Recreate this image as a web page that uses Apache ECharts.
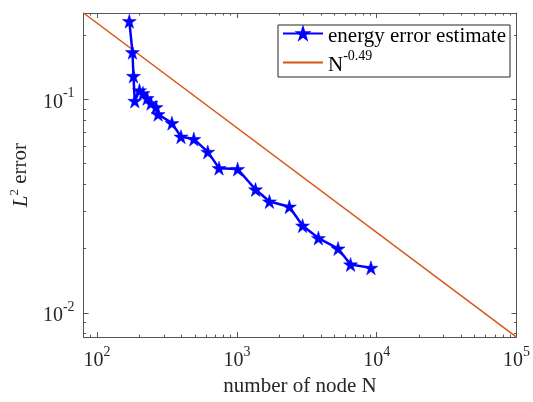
<!DOCTYPE html>
<html>
<head>
<meta charset="utf-8">
<script src="https://cdn.jsdelivr.net/npm/echarts@6/dist/echarts.min.js"></script>
<style>html,body{margin:0;padding:0;background:#fff;}#c{width:533px;height:402px;}</style>
</head>
<body>
<div id="c"></div>
<script>
// ---- data ----
const nodeCount = [170, 179, 182, 186, 201, 213, 228, 243, 264, 273, 343, 398, 492, 619, 745, 1012, 1359, 1709, 2372, 2950, 3827, 5293, 6500, 9093];
const energyError = [0.232, 0.166, 0.1285, 0.0982, 0.110, 0.1066, 0.1011, 0.0958, 0.0918, 0.0851, 0.0773, 0.0668, 0.0651, 0.0567, 0.0476, 0.0471, 0.0378, 0.0332, 0.0314, 0.0256, 0.0224, 0.0200, 0.01684, 0.01624];
const refRate = -0.49;
const refCoef = 2.17;
const refX = [80, 100000];
const xMajorTicks = [100, 1000, 10000, 100000];
const yMajorTicks = [0.01, 0.1];
const seriesNames = ['energy error estimate', 'ref'];

// ---- build ----
const FONT = 'Liberation Serif';
const xMin = refX[0], xMax = refX[1];
const yMax = refCoef * Math.pow(xMin, refRate);
const yMin = refCoef * Math.pow(xMax, refRate);
const refData = refX.map(x => [x, refCoef * Math.pow(x, refRate)]);
const mainData = nodeCount.map((n, i) => [n, energyError[i]]);

function minorVals(lo, hi) {
  const out = [];
  for (let d = Math.floor(Math.log10(lo)); d <= Math.ceil(Math.log10(hi)); d++) {
    for (let k = 2; k <= 9; k++) {
      const v = k * Math.pow(10, d);
      if (v > lo * 1.0001 && v < hi * 0.9999) out.push(v);
    }
  }
  return out;
}
const xMinor = minorVals(xMin, xMax);
const yMinor = minorVals(yMin, yMax);

const rich = {
  b: { fontFamily: FONT, fontSize: 20, color: '#262626', lineHeight: 26, verticalAlign: 'bottom' },
  sup: { fontFamily: FONT, fontSize: 14, color: '#262626', lineHeight: 26, verticalAlign: 'top' }
};
function powLabel(v) {
  const e = Math.round(Math.log10(v));
  return '{b|10}{sup|' + e + '}';
}
const axisColor = '#555';
const starPath = 'path://M50,0 L61.2,34.5 L97.6,34.5 L68.2,55.9 L79.4,90.5 L50,69.1 L20.6,90.5 L31.8,55.9 L2.4,34.5 L38.8,34.5 Z';

function baseX(extra) {
  return Object.assign({
    type: 'log', logBase: 10, min: xMin, max: xMax, gridIndex: 0,
    splitLine: { show: false }, minorTick: { show: false }, minorSplitLine: { show: false }
  }, extra);
}
function baseY(extra) {
  return Object.assign({
    type: 'log', logBase: 10, min: yMin, max: yMax, gridIndex: 0,
    splitLine: { show: false }, minorTick: { show: false }, minorSplitLine: { show: false }
  }, extra);
}

const chart = echarts.init(document.getElementById('c'), null, { renderer: 'canvas' });
chart.setOption({
  animation: false,
  backgroundColor: '#fff',
  grid: { left: 83, right: 15, top: 13, bottom: 61, containLabel: false },
  xAxis: [
    baseX({
      position: 'bottom',
      axisLine: { show: true, lineStyle: { color: axisColor, width: 1 } },
      axisTick: { show: true, inside: true, length: 5, lineStyle: { color: axisColor }, customValues: xMajorTicks },
      axisLabel: { show: true, margin: 8, formatter: powLabel, rich: rich, customValues: xMajorTicks },
      name: 'number of node N', nameLocation: 'middle', nameGap: 32,
      nameTextStyle: { fontFamily: FONT, fontSize: 21, color: '#262626' }
    }),
    baseX({
      position: 'bottom',
      axisLine: { show: false },
      axisTick: { show: true, inside: true, length: 2.5, lineStyle: { color: axisColor }, customValues: xMinor },
      axisLabel: { show: false }
    }),
    baseX({
      position: 'top',
      axisLine: { show: true, lineStyle: { color: axisColor, width: 1 } },
      axisTick: { show: true, inside: true, length: 5, lineStyle: { color: axisColor }, customValues: xMajorTicks },
      axisLabel: { show: false }
    }),
    baseX({
      position: 'top',
      axisLine: { show: false },
      axisTick: { show: true, inside: true, length: 2.5, lineStyle: { color: axisColor }, customValues: xMinor },
      axisLabel: { show: false }
    })
  ],
  yAxis: [
    baseY({
      position: 'left',
      axisLine: { show: true, lineStyle: { color: axisColor, width: 1 } },
      axisTick: { show: true, inside: true, length: 5, lineStyle: { color: axisColor }, customValues: yMajorTicks },
      axisLabel: { show: true, margin: 9, formatter: powLabel, rich: rich, customValues: yMajorTicks },
      name: '{it|L}{s2|2} error', nameLocation: 'middle', nameGap: 50,
      nameTextStyle: {
        fontFamily: FONT, fontSize: 21, color: '#262626',
        rich: {
          it: { fontFamily: FONT, fontSize: 21, fontStyle: 'italic', color: '#262626', lineHeight: 24, verticalAlign: 'bottom' },
          s2: { fontFamily: FONT, fontSize: 13, color: '#262626', lineHeight: 24, verticalAlign: 'top' }
        }
      }
    }),
    baseY({
      position: 'left',
      axisLine: { show: false },
      axisTick: { show: true, inside: true, length: 2.5, lineStyle: { color: axisColor }, customValues: yMinor },
      axisLabel: { show: false }
    }),
    baseY({
      position: 'right',
      axisLine: { show: true, lineStyle: { color: axisColor, width: 1 } },
      axisTick: { show: true, inside: true, length: 5, lineStyle: { color: axisColor }, customValues: yMajorTicks },
      axisLabel: { show: false }
    }),
    baseY({
      position: 'right',
      axisLine: { show: false },
      axisTick: { show: true, inside: true, length: 2.5, lineStyle: { color: axisColor }, customValues: yMinor },
      axisLabel: { show: false }
    })
  ],
  legend: {
    orient: 'vertical', left: 278, top: 25,
    padding: [1, 4, 1, 4], itemGap: 2, itemWidth: 40, itemHeight: 14,
    backgroundColor: '#fff', borderColor: '#262626', borderWidth: 1,
    data: [
      { name: seriesNames[0] },
      { name: seriesNames[1], itemStyle: { opacity: 0 } }
    ],
    formatter: function (n) { return n === 'ref' ? '{t|N}{s|-0.49}' : '{t|' + n + '}'; },
    textStyle: {
      fontFamily: FONT, fontSize: 21, color: '#000',
      rich: {
        t: { fontFamily: FONT, fontSize: 21, color: '#000', lineHeight: 27, verticalAlign: 'bottom' },
        s: { fontFamily: FONT, fontSize: 14, color: '#000', lineHeight: 27, verticalAlign: 'top' }
      }
    }
  },
  series: [
    {
      name: seriesNames[0], type: 'line', xAxisIndex: 0, yAxisIndex: 0,
      data: mainData,
      symbol: starPath, symbolSize: 14, showAllSymbol: true,
      lineStyle: { color: '#0000ff', width: 2.5 },
      itemStyle: { color: '#0000ff', borderColor: '#0000ff', borderWidth: 0.5 },
      z: 3
    },
    {
      name: seriesNames[1], type: 'line', xAxisIndex: 0, yAxisIndex: 0,
      data: refData, symbol: 'none',
      lineStyle: { color: '#D95319', width: 1.5 },
      itemStyle: { color: '#D95319' },
      z: 2
    }
  ]
});
</script>
</body>
</html>
